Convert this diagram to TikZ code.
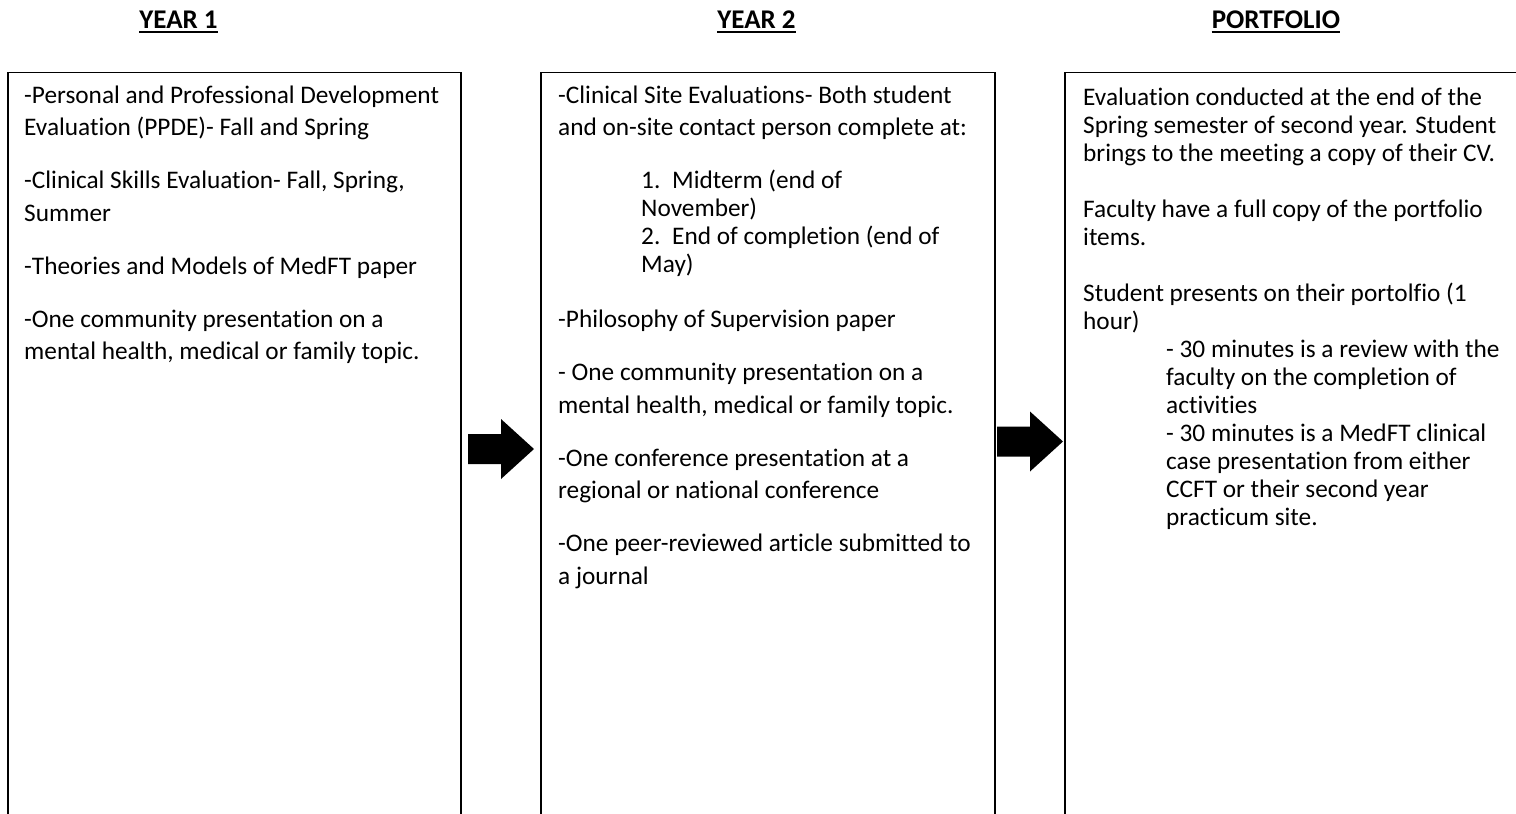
\documentclass[tikz,border=0pt]{standalone}
\usepackage{fontspec}
\setmainfont{Carlito}[Ligatures=NoCommon]
\usetikzlibrary{positioning}

\newcommand{\blockarrow}[1]{%
  \fill (#1) ++(0,-15) -- ++(33,0) -- ++(0,-15) -- ++(33,30) -- ++(-33,30) -- ++(0,-15) -- ++(-33,0) -- cycle;}

\begin{document}
\begin{tikzpicture}[x=1pt, y=-1pt,
    panel/.style={draw, line width=1.2pt, inner sep=0pt, outer sep=0pt, anchor=north west, minimum height=800pt},
    head/.style={font=\fontsize{27}{32}\selectfont\bfseries, inner sep=0pt, anchor=base},
    uline/.style={line width=1.8pt},
    body/.style={font=\fontsize{25.3}{32.5}\selectfont, align=left, inner sep=0pt},
    tight/.style={font=\fontsize{25.3}{28}\selectfont, align=left, inner sep=0pt}]

    \path[use as bounding box, clip] (0,0) rectangle (1516,814);

    % headings
    \node[head] (h1) at (178.5,28) {YEAR 1};
    \node[head] (h2) at (756.5,28) {YEAR 2};
    \node[head] (h3) at (1276,28) {PORTFOLIO};
    \foreach \h in {h1,h2,h3}
        \draw[uline] ([yshift=-3.7pt]\h.base west) -- ([yshift=-3.7pt]\h.base east);

    % boxes
    \node[panel, minimum width=453pt] (year1) at (8,72.5) {};
    \node[panel, minimum width=454pt] (year2) at (541,72.5) {};
    \node[panel, minimum width=460pt] (port) at (1065,72.5) {};

    \node[body, below right=7.75pt and 16pt of year1.north west] (t1) {\strut-Personal and Professional Development\\
        Evaluation (PPDE)- Fall and Spring\\[20.5pt]
        -Clinical Skills Evaluation- Fall, Spring,\\
        Summer\\[20.5pt]
        -Theories and Models of MedFT paper\\[20.5pt]
        -One community presentation on a\\
        mental health, medical or family topic.};

    \node[body, below right=7.75pt and 17pt of year2.north west] (t2) {\strut-Clinical Site Evaluations- Both student\\
        and on-site contact person complete at:\\[20.5pt]
        \hspace*{83pt}\makebox[31pt][l]{1.}Midterm (end of\\[-4.5pt]
        \hspace*{83pt}November)\\[-4.5pt]
        \hspace*{83pt}\makebox[31pt][l]{2.}End of completion (end of\\[-4.5pt]
        \hspace*{83pt}May)\\[22.5pt]
        -Philosophy of Supervision paper\\[20.5pt]
        - One community presentation on a\\
        mental health, medical or family topic.\\[20.5pt]
        -One conference presentation at a\\
        regional or national conference\\[20.5pt]
        -One peer-reviewed article submitted to\\
        a journal};

    \node[tight, below right=12.9pt and 18pt of port.north west] (t3) {\strut Evaluation conducted at the end of the\\
        Spring semester of second year. Student\\
        brings to the meeting a copy of their CV.\\[28pt]
        Faculty have a full copy of the portfolio\\
        items.\\[28pt]
        Student presents on their portolfio (1\\
        hour)\\
        \hspace*{83pt}- 30 minutes is a review with the\\
        \hspace*{83pt}faculty on the completion of\\
        \hspace*{83pt}activities\\
        \hspace*{83pt}- 30 minutes is a MedFT clinical\\
        \hspace*{83pt}case presentation from either\\
        \hspace*{83pt}CCFT or their second year\\
        \hspace*{83pt}practicum site.};

    % arrows between the boxes
    \coordinate (a1) at (468,449);
    \coordinate (a2) at (997,441.5);
    \blockarrow{a1}
    \blockarrow{a2}

\end{tikzpicture}
\end{document}
